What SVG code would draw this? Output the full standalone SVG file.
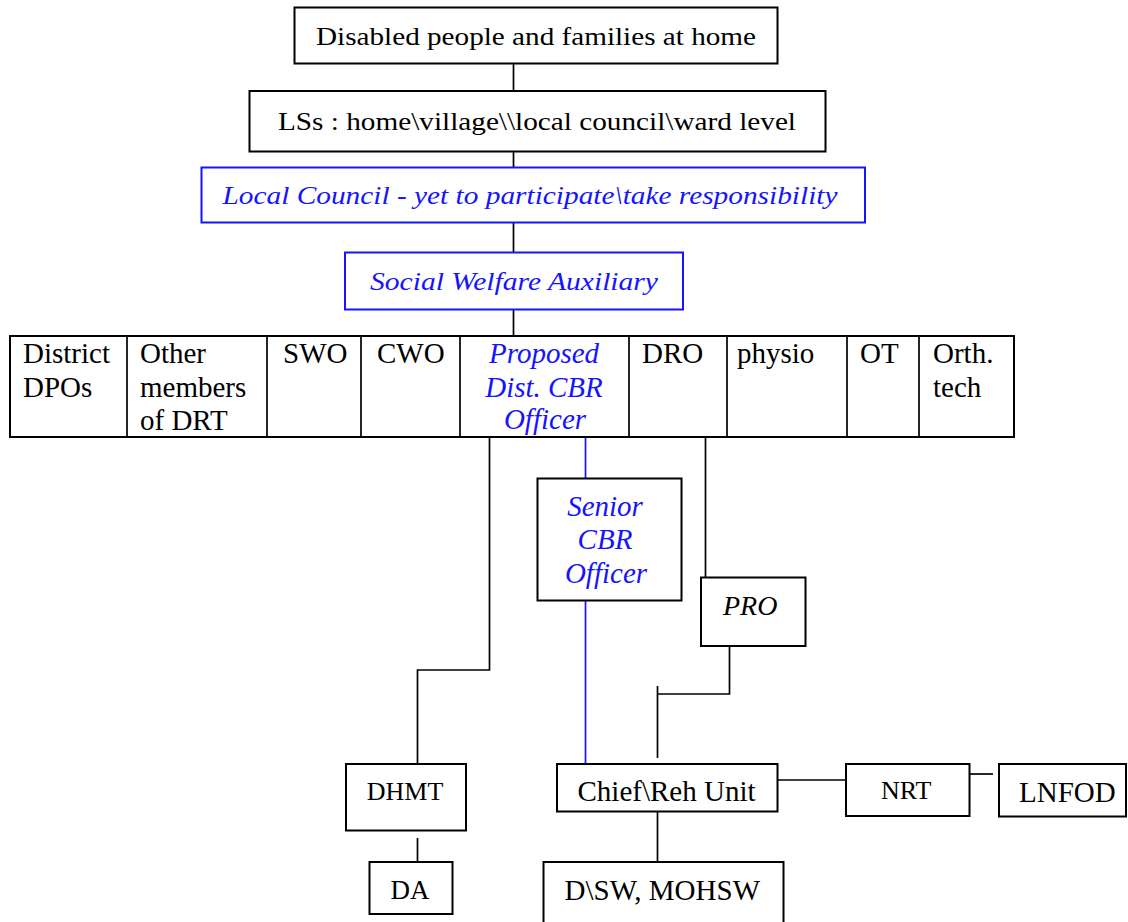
<svg xmlns="http://www.w3.org/2000/svg" width="1128" height="922" viewBox="0 0 1128 922">
<style>
text{font-family:"Liberation Serif","Times New Roman",serif;fill:#000;}
.t29{font-size:29px;}
.t26{font-size:26px;}
.top{font-size:26px;}
.it{font-style:italic;}
.blue{fill:#1414ff;}
.box{fill:#fff;stroke:#000;stroke-width:2;}
.bbox{fill:#fff;stroke:#1414ff;stroke-width:2;}
.ln{fill:none;stroke:#000;stroke-width:1.7;}
.bln{fill:none;stroke:#1414ff;stroke-width:1.7;}
.mid{text-anchor:middle;}
</style>
<rect width="1128" height="922" fill="#fff"/>
<g id="connectors">
<path class="ln" d="M513.5 56V93"/>
<path class="ln" d="M513.5 142V167"/>
<path class="ln" d="M513.5 212V252"/>
<path class="ln" d="M513.5 309V336"/>
<path class="ln" d="M489.5 429V670H417.5V764"/>
<path class="bln" d="M585.5 430V478"/>
<path class="bln" d="M585.5 598V766"/>
<path class="ln" d="M705.5 432V577"/>
<path class="ln" d="M729.5 646V694H657.5M657.5 686V758"/>
<path class="ln" d="M778 780H850"/>
<path class="ln" d="M970 774H993"/>
<path class="ln" d="M657.5 808V862"/>
<path class="ln" d="M417.5 838V862"/>
</g>
<g id="n-disabled">
<rect class="box" x="294.5" y="7.5" width="483" height="56"/>
<text class="top" x="316" y="45" textLength="440" lengthAdjust="spacingAndGlyphs">Disabled people and families at home</text>
</g>
<g id="n-lss">
<rect class="box" x="249.5" y="91" width="576" height="60.5"/>
<text class="top" x="278" y="130" textLength="518" lengthAdjust="spacingAndGlyphs">LSs : home\village\\local council\ward level</text>
</g>
<g id="n-localcouncil">
<rect class="bbox" x="201.5" y="167.5" width="663.5" height="55"/>
<text class="top it blue" x="222.5" y="204" textLength="615" lengthAdjust="spacingAndGlyphs">Local Council - yet to participate\take responsibility</text>
</g>
<g id="n-swa">
<rect class="bbox" x="345" y="252.5" width="338" height="57"/>
<text class="top it blue" x="370" y="290" textLength="288" lengthAdjust="spacingAndGlyphs">Social Welfare Auxiliary</text>
</g>
<g id="n-table">
<rect class="box" x="10" y="336" width="1004" height="101"/>
<path class="ln" stroke-width="2" d="M127 336V437M267 336V437M361 336V437M460 336V437M629 336V437M727 336V437M847 336V437M919 336V437"/>
<text class="t29" x="23" y="363">District</text>
<text class="t29" x="23" y="397">DPOs</text>
<text class="t29" x="140" y="363">Other</text>
<text class="t29" x="140" y="397">members</text>
<text class="t29" x="140" y="430">of DRT</text>
<text class="t29" x="283" y="363">SWO</text>
<text class="t29" x="377" y="363">CWO</text>
<text class="t29 it blue mid" x="544" y="363">Proposed</text>
<text class="t29 it blue mid" x="544" y="397">Dist. CBR</text>
<text class="t29 it blue mid" x="545" y="429">Officer</text>
<text class="t29" x="642" y="363">DRO</text>
<text class="t29" x="737" y="363">physio</text>
<text class="t29" x="860" y="363">OT</text>
<text class="t29" x="933" y="363">Orth.</text>
<text class="t29" x="933" y="397">tech</text>
</g>
<g id="n-senior">
<rect class="box" x="537.5" y="478.5" width="144" height="122"/>
<text class="t29 it blue mid" x="605" y="516">Senior</text>
<text class="t29 it blue mid" x="605" y="549">CBR</text>
<text class="t29 it blue mid" x="606" y="583">Officer</text>
</g>
<g id="n-pro">
<rect class="box" x="701" y="577.5" width="104.5" height="68.5"/>
<text class="it" style="font-size:28px" x="723" y="615">PRO</text>
</g>
<g id="n-dhmt">
<rect class="box" x="346" y="764" width="120" height="66.5"/>
<text class="t26 mid" x="405" y="800">DHMT</text>
</g>
<g id="n-da">
<rect class="box" x="369.5" y="862" width="83" height="52"/>
<text class="mid" style="font-size:27px" x="410" y="899">DA</text>
</g>
<g id="n-chief">
<rect class="box" x="557" y="764" width="220.5" height="47.5"/>
<text class="t29" x="577.5" y="801">Chief\Reh Unit</text>
</g>
<g id="n-nrt">
<rect class="box" x="846" y="764" width="123.5" height="52"/>
<text class="t26" x="881" y="799">NRT</text>
</g>
<g id="n-lnfod">
<rect class="box" x="999" y="764" width="127" height="52.5"/>
<text class="t29" x="1019" y="801.5">LNFOD</text>
</g>
<g id="n-dsw">
<rect class="box" x="543.5" y="862" width="240" height="64"/>
<text class="t29" x="564.5" y="900">D\SW, MOHSW</text>
</g>
</svg>
